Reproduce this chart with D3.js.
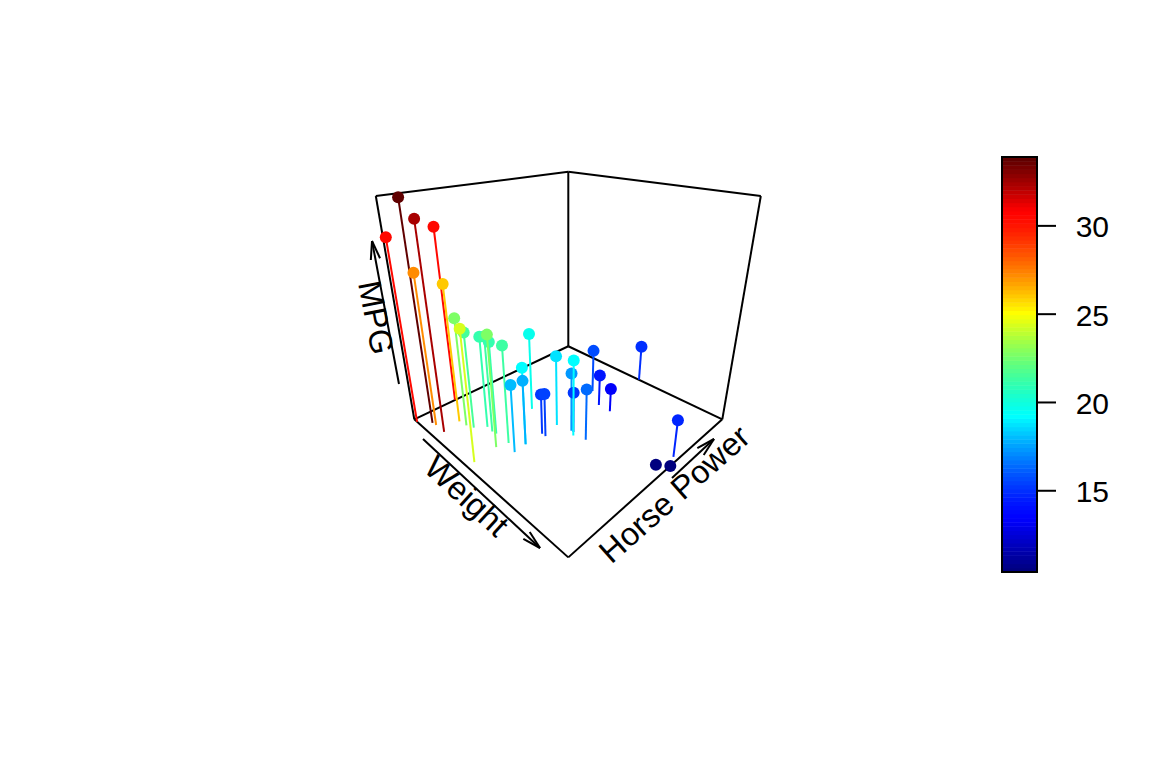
<!DOCTYPE html>
<html><head><meta charset="utf-8">
<script src="https://cdn.jsdelivr.net/npm/d3@7"></script>
<style>html,body{margin:0;padding:0;background:#fff}svg{display:block}text{font-family:"Liberation Sans",Arial,sans-serif;fill:#000}</style>
</head><body><svg id="c" width="1152" height="768"></svg>
<script>
const weights=[2.62,2.875,2.32,3.215,3.44,3.46,3.57,3.19,3.15,3.44,3.44,4.07,3.73,3.78,5.25,5.424,5.345,2.2,1.615,1.835,2.465,3.52,3.435,3.84,3.845,1.935,2.14,1.513,3.17,2.77,3.57,2.78];
const horsepower=[110,110,93,110,175,105,245,62,95,123,123,180,180,180,205,215,230,66,52,65,97,150,150,245,175,66,91,113,264,175,335,109];
const mpg=[21,21,22.8,21.4,18.7,18.1,14.3,24.4,22.8,19.2,17.8,16.4,17.3,15.2,10.4,10.4,14.7,32.4,30.4,33.9,21.5,15.5,15.2,13.3,19.2,27.3,26,30.4,15.8,19.7,15,21.4];
const colorTicks=[15,20,25,30];
const jetStops=["#00007F","#0000FF","#007FFF","#00FFFF","#7FFF7F","#FFFF00","#FF7F00","#FF0000","#7F0000"];
const nColors=100;
const xLabel="Weight", yLabel="Horse Power", zLabel="MPG";

const svg=d3.select("#c");
const sx=d3.scaleLinear().domain(d3.extent(weights)).range([0,1]);
const sy=d3.scaleLinear().domain(d3.extent(horsepower)).range([0,1]);
const sz=d3.scaleLinear().domain(d3.extent(mpg)).range([0,1]);
// perspective projection fitted to the box
function proj(x,y,z){
  const h=x+y-1,d=x-y,w=1-0.308*d-0.2*z;
  return [568.3+154*h/w,(419.3-33.6*d-262.5*z)/w];
}
const ramp=d3.piecewise(d3.interpolateRgb,jetStops);
// channel gamma reproduces the colour-managed look of the reference
const g=(v,p)=>Math.round(255*Math.pow(v/255,p));
const palette=d3.range(nColors).map(i=>{
  const c=d3.rgb(ramp(i/(nColors-1)));
  return d3.rgb(g(c.r,1.4),g(c.g,1.3),g(c.b,1)).formatHex();
});
const level=d3.scaleQuantize().domain(d3.extent(mpg)).range(palette);

const seg=(a,b,col,lw)=>svg.append("line").attr("x1",a[0]).attr("y1",a[1]).attr("x2",b[0]).attr("y2",b[1]).attr("stroke",col).attr("stroke-width",lw);
// box: back panels and floor
[[[0,0,0],[0,1,0]],[[0,1,0],[1,1,0]],[[0,0,0],[1,0,0]],[[1,0,0],[1,1,0]],
 [[0,0,0],[0,0,1]],[[0,1,0],[0,1,1]],[[1,1,0],[1,1,1]],
 [[0,0,1],[0,1,1]],[[0,1,1],[1,1,1]]].forEach(([a,b])=>seg(proj(...a),proj(...b),"#000",2));

// stems and points, back to front
const pts=mpg.map((m,i)=>({x:sx(weights[i]),y:sy(horsepower[i]),z:sz(m),c:level(m)}))
 .sort((a,b)=>(a.x-a.y)-(b.x-b.y));
pts.forEach(p=>{
  const t=proj(p.x,p.y,p.z),b=proj(p.x,p.y,0);
  seg(t,b,p.c,2);
  svg.append("circle").attr("cx",t[0]).attr("cy",t[1]).attr("r",6).attr("fill",p.c);
});

// axis arrows
function arrow(a,b){
  seg(a,b,"#000",2);
  const ang=Math.atan2(b[1]-a[1],b[0]-a[0]),L=19,s=0.25;
  [ang+Math.PI-s,ang+Math.PI+s].forEach(t=>seg(b,[b[0]+L*Math.cos(t),b[1]+L*Math.sin(t)],"#000",2));
}
arrow([423,439],[540,548]);
arrow([672,478],[714,439]);
arrow([399,384],[372,241]);
const lab=(t,x,y,r)=>svg.append("text").attr("transform",`translate(${x},${y}) rotate(${r})`).attr("text-anchor","middle").attr("dominant-baseline","middle").attr("font-size",32.5).text(t);
lab(xLabel,465,498,42.5);
lab(yLabel,676,496,-41.5);
lab(zLabel,373.5,318,79);

// colour key
const ky=d3.scaleLinear().domain(d3.extent(mpg)).range([572,157]);
const [lo,hi]=d3.extent(mpg),step=(hi-lo)/nColors;
palette.forEach((c,i)=>{
  const y1=ky(lo+i*step),y2=ky(lo+(i+1)*step);
  svg.append("rect").attr("x",1002).attr("width",35).attr("y",y2).attr("height",y1-y2+0.5).attr("fill",c);
});
svg.append("rect").attr("x",1002).attr("y",157).attr("width",35).attr("height",415).attr("fill","none").attr("stroke","#000").attr("stroke-width",2);
colorTicks.forEach(t=>{
  svg.append("line").attr("x1",1037).attr("x2",1056).attr("y1",ky(t)).attr("y2",ky(t)).attr("stroke","#000").attr("stroke-width",2);
  svg.append("text").attr("x",1109).attr("y",ky(t)+11.5).attr("text-anchor","end").attr("font-size",30).text(t);
});
</script></body></html>
